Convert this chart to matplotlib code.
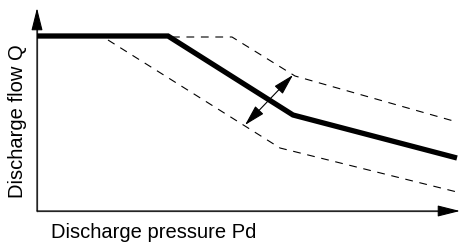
import matplotlib
matplotlib.use("Agg")
import matplotlib.pyplot as plt

plt.rcParams['font.family'] = ['Liberation Sans', 'DejaVu Sans']

# curva nominal (gruesa) y bandas de tolerancia (discontinuas)
main_x = [0, 131, 256, 420]
main_y = [175, 175, 96, 53]
upper_x = [135, 195, 258, 420]
upper_y = [174, 174, 135, 89]
lower_x = [71, 243, 420]
lower_y = [171, 63, 19]

# flecha doble entre bandas
band_from = (208, 86)
band_to = (256, 136)

xlabel = 'Discharge pressure Pd'
ylabel = 'Discharge flow Q'

fig = plt.figure(figsize=(4.61, 2.42), dpi=100)
ax = fig.add_axes([0, 0, 1, 1])
ax.set_xlim(-37, 424)
ax.set_ylim(-31, 211)
ax.axis('off')

# ejes con flechas
ax.annotate('', xy=(0, 203), xytext=(0, 0),
            arrowprops=dict(arrowstyle='-|>,head_length=1.4,head_width=0.35',
                            color='black', lw=0.8, shrinkA=0, shrinkB=0))
ax.annotate('', xy=(423, 0), xytext=(0, 0),
            arrowprops=dict(arrowstyle='-|>,head_length=1.4,head_width=0.35',
                            color='black', lw=0.8, shrinkA=0, shrinkB=0))
ax.plot([0, 0], [0, 190], color='#555555', lw=0.9)
ax.plot([0, 410], [0, 0], color='#555555', lw=0.9)

# curvas
ax.plot(main_x, main_y, color='black', lw=3.8, solid_joinstyle='miter',
        solid_capstyle='butt')
ax.plot(upper_x, upper_y, color='black', lw=0.8, dashes=(7, 6))
ax.plot(lower_x, lower_y, color='black', lw=0.8, dashes=(7, 6))

ax.annotate('', xy=band_to, xytext=band_from,
            arrowprops=dict(arrowstyle='<|-|>,head_length=1.3,head_width=0.35',
                            color='black', lw=0.8, shrinkA=0, shrinkB=0))

ax.text(116.5, -27, xlabel, fontsize=14.5, ha='center', va='baseline')
ax.text(-19.5, 90, ylabel, fontsize=14.5, ha='center', va='center',
        rotation=90)

fig.savefig('out.png', dpi=100)
